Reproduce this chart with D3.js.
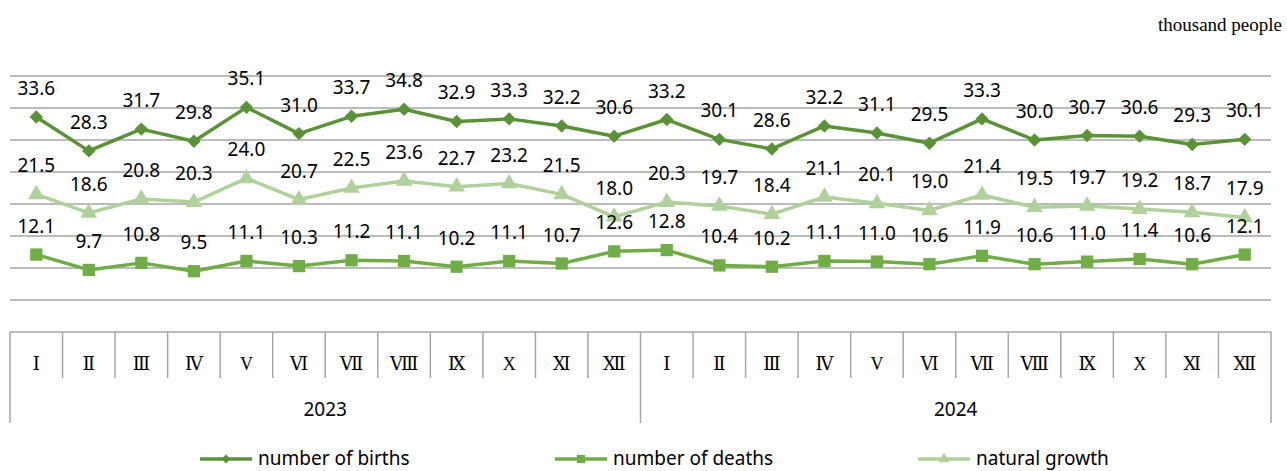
<!DOCTYPE html>
<html>
<head>
<meta charset="utf-8">
<script src="https://cdn.jsdelivr.net/npm/d3@7"></script>
<style>
  body { margin: 0; background: #fff; }
  svg { display: block; }
</style>
</head>
<body>
<div id="chart"></div>
<script>
/* month labels of the lower axis row, and the years of the upper row */
const monthLabels = ["Ⅰ", "Ⅱ", "Ⅲ", "Ⅳ", "V", "Ⅵ", "Ⅶ", "Ⅷ", "Ⅸ", "X", "Ⅺ", "Ⅻ"];
const years = ["2023", "2024"];

/* thousand people, Jan 2023 .. Dec 2024 */
const births = [33.6, 28.3, 31.7, 29.8, 35.1, 31.0, 33.7, 34.8, 32.9, 33.3, 32.2, 30.6,
                33.2, 30.1, 28.6, 32.2, 31.1, 29.5, 33.3, 30.0, 30.7, 30.6, 29.3, 30.1];
const deaths = [12.1, 9.7, 10.8, 9.5, 11.1, 10.3, 11.2, 11.1, 10.2, 11.1, 10.7, 12.6,
                12.8, 10.4, 10.2, 11.1, 11.0, 10.6, 11.9, 10.6, 11.0, 11.4, 10.6, 12.1];
const growth = [21.5, 18.6, 20.8, 20.3, 24.0, 20.7, 22.5, 23.6, 22.7, 23.2, 21.5, 18.0,
                20.3, 19.7, 18.4, 21.1, 20.1, 19.0, 21.4, 19.5, 19.7, 19.2, 18.7, 17.9];

const seriesNames = ["number of births", "number of deaths", "natural growth"];
const gridValues = [5, 10, 15, 20, 25, 30, 35, 40];

const width = 1287, height = 471;
const plotLeft = 10, plotRight = 1271, plotTop = 76, plotBottom = 332;
const gridColour = "#a6a6a6";
const labelFont = "'Noto Sans', 'Open Sans', sans-serif";

/* a square turned by 45 degrees, as wide as it is tall */
const wideDiamond = {
  draw(context, size) {
    const r = Math.sqrt(size / 2);
    context.moveTo(0, -r);
    context.lineTo(r, 0);
    context.lineTo(0, r);
    context.lineTo(-r, 0);
    context.closePath();
  }
};

const series = [
  { name: seriesNames[0], values: births, colour: "#5b9237", symbol: wideDiamond, size: 90 },
  { name: seriesNames[1], values: deaths, colour: "#70ad47", symbol: d3.symbolSquare, size: 150 },
  { name: seriesNames[2], values: growth, colour: "#b0d19b", symbol: d3.symbolTriangle, size: 120 }
];

const svg = d3.select("#chart").append("svg")
  .attr("width", width)
  .attr("height", height);

const indices = d3.range(births.length);

const x = d3.scaleBand()
  .domain(indices)
  .range([plotLeft, plotRight]);

const y = d3.scaleLinear()
  .domain([0, 40])
  .range([plotBottom, plotTop]);

const cx = i => x(i) + x.bandwidth() / 2;

/* unit caption, top right */
svg.append("text")
  .attr("x", 1282)
  .attr("y", 31)
  .attr("text-anchor", "end")
  .attr("font-family", "'Liberation Serif', 'DejaVu Serif', serif")
  .attr("font-size", 19)
  .attr("fill", "#000")
  .text("thousand people");

/* horizontal gridlines */
svg.append("g")
  .selectAll("line")
  .data(gridValues)
  .join("line")
    .attr("x1", plotLeft)
    .attr("x2", plotRight)
    .attr("y1", d => y(d))
    .attr("y2", d => y(d))
    .attr("stroke", gridColour)
    .attr("stroke-width", 1.5);

/* category axis: a box with month cells and a year row */
const axisG = svg.append("g").attr("stroke", gridColour).attr("stroke-width", 1.5);
const monthRowBottom = 378, yearRowBottom = 423;

axisG.append("line")
  .attr("x1", plotLeft).attr("x2", plotRight)
  .attr("y1", plotBottom).attr("y2", plotBottom);

axisG.selectAll("line.month")
  .data(d3.range(1, births.length))
  .join("line")
    .attr("class", "month")
    .attr("x1", d => x(d)).attr("x2", d => x(d))
    .attr("y1", plotBottom)
    .attr("y2", d => d % 12 === 0 ? yearRowBottom : monthRowBottom);

axisG.selectAll("line.edge")
  .data([plotLeft, plotRight])
  .join("line")
    .attr("class", "edge")
    .attr("x1", d => d).attr("x2", d => d)
    .attr("y1", plotBottom).attr("y2", yearRowBottom);

svg.append("g")
  .selectAll("text")
  .data(indices)
  .join("text")
    .attr("x", d => cx(d))
    .attr("y", 370)
    .attr("text-anchor", "middle")
    .attr("font-family", "'Liberation Serif', 'DejaVu Serif', serif")
    .attr("font-size", 18)
    .attr("fill", "#000")
    .text(d => monthLabels[d % 12]);

svg.append("g")
  .selectAll("text")
  .data(years)
  .join("text")
    .attr("x", (d, i) => (x(i * 12) + x(i * 12 + 11) + x.bandwidth()) / 2)
    .attr("y", 416)
    .attr("text-anchor", "middle")
    .attr("font-family", labelFont)
    .attr("font-size", 19)
    .attr("fill", "#000")
    .text(d => d);

/* the three lines with markers */
const line = d3.line()
  .x((d, i) => cx(i))
  .y(d => y(d));

series.forEach(s => {
  const g = svg.append("g");
  g.append("path")
    .datum(s.values)
    .attr("d", line)
    .attr("fill", "none")
    .attr("stroke", s.colour)
    .attr("stroke-width", 3.5)
    .attr("stroke-linejoin", "round");

  g.selectAll("path.marker")
    .data(s.values)
    .join("path")
      .attr("class", "marker")
      .attr("d", d3.symbol().type(s.symbol).size(s.size))
      .attr("transform", (d, i) => "translate(" + cx(i) + "," + y(d) + ")")
      .attr("fill", s.colour);
});

/* data labels above each point */
series.forEach(s => {
  svg.append("g")
    .selectAll("text")
    .data(s.values)
    .join("text")
      .attr("x", (d, i) => cx(i))
      .attr("y", d => y(d) - 22)
      .attr("text-anchor", "middle")
      .attr("font-family", labelFont)
      .attr("font-size", 19)
      .attr("fill", "#000")
      .text(d => d.toFixed(1));
});

/* legend */
const legendX = [200, 555, 918];
const legend = svg.append("g")
  .selectAll("g")
  .data(series)
  .join("g")
    .attr("transform", (d, i) => "translate(" + legendX[i] + ",459)");

legend.append("line")
  .attr("x1", 0).attr("x2", 52)
  .attr("y1", 0).attr("y2", 0)
  .attr("stroke", d => d.colour)
  .attr("stroke-width", 3.5);

legend.append("path")
  .attr("d", d => d3.symbol().type(d.symbol).size(d.size * 0.45)())
  .attr("transform", "translate(26,0)")
  .attr("fill", d => d.colour);

legend.append("text")
  .attr("x", 58)
  .attr("y", 6)
  .attr("font-family", labelFont)
  .attr("font-size", 19)
  .attr("fill", "#000")
  .text(d => d.name);
</script>
</body>
</html>
